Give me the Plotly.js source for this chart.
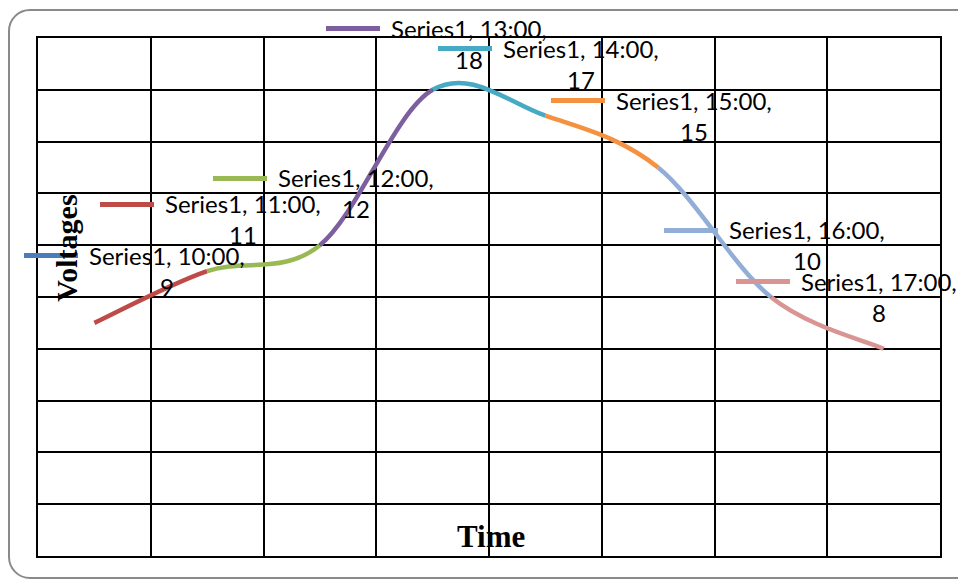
<!DOCTYPE html>
<html>
<head>
<meta charset="utf-8">
<script src="https://cdn.plot.ly/plotly-3.0.1.min.js"></script>
<style>
  html, body { margin: 0; padding: 0; background: #ffffff; overflow: hidden; }
  #wrap { position: relative; width: 958px; height: 580px; overflow: hidden; background: #ffffff; }
  #frame { position: absolute; left: 8px; top: 9px; width: 980px; height: 570px;
           border: 2px solid #8a8a8a; border-radius: 22px; box-sizing: border-box; }
  #chart { position: absolute; left: 0; top: 0; width: 958px; height: 580px; }
</style>
</head>
<body>
<div id="wrap">
  <div id="frame"></div>
  <div id="chart"></div>
</div>
<script>
// ---- data ----
const seriesName = "Series1";
const categories = ["10:00", "11:00", "12:00", "13:00", "14:00", "15:00", "16:00", "17:00"];
const voltages = [9, 11, 12, 18, 17, 15, 10, 8];
const pointColors = ["#4A7EBB", "#BE4B48", "#98B954", "#7D5FA0", "#46AAC5", "#F59241", "#93AED6", "#D99593"];
const xTitle = "Time";
const yTitle = "Voltages";

// ---- layout helpers (styling only) ----
const idx = categories.map((c, i) => i);
const n = voltages.length;

// smooth (Excel-like) curve: cubic Bezier per segment, in data coordinates
function pt(i) { return { x: idx[i], y: voltages[i] }; }
const shapes = [];
for (let i = 0; i < n - 1; i++) {
  const p0 = pt(Math.max(i - 1, 0));
  const p1 = pt(i);
  const p2 = pt(i + 1);
  const p3 = pt(Math.min(i + 2, n - 1));
  const c1x = p1.x + (p2.x - p0.x) / 6, c1y = p1.y + (p2.y - p0.y) / 6;
  const c2x = p2.x - (p3.x - p1.x) / 6, c2y = p2.y - (p3.y - p1.y) / 6;
  shapes.push({
    type: "path", xref: "x", yref: "y", layer: "above",
    path: `M ${p1.x},${p1.y} C ${c1x},${c1y} ${c2x},${c2y} ${p2.x},${p2.y}`,
    line: { color: pointColors[i + 1], width: 4.5 }
  });
}

// label placement offsets (pixels)
const keyOffsets = idx.map(i => i === 0 ? -70 : (i === n - 1 ? -148 : -107));
const labelYOff = voltages.map(v => v === Math.max(...voltages) ? 61 : 67);

const annotations = [];
idx.forEach(i => {
  const k = keyOffsets[i];
  const ly = labelYOff[i];
  // legend key (drawn as a small filled annotation box so it is not clipped)
  annotations.push({
    x: idx[i], y: voltages[i], xref: "x", yref: "y",
    text: " ", showarrow: false,
    xanchor: "center", yanchor: "middle",
    width: 54, height: 5, borderpad: 0, borderwidth: 0,
    bgcolor: pointColors[i],
    font: { size: 2, color: pointColors[i] },
    xshift: k + 27, yshift: ly
  });
  annotations.push({
    x: idx[i], y: voltages[i], xref: "x", yref: "y",
    text: `${seriesName}, ${categories[i]},<br>${voltages[i]}`,
    showarrow: false, align: "center",
    xanchor: "center", yanchor: "middle",
    xshift: k + 54 + 10 + 79, yshift: ly - 15,
    font: { family: "Lato, 'Open Sans', sans-serif", size: 24, color: "#000000" }
  });
});

// axis titles drawn inside the plot area
annotations.push({
  xref: "paper", yref: "paper", x: 0.502, y: 0.037, xanchor: "center", yanchor: "middle",
  text: `<b>${xTitle}</b>`, showarrow: false,
  font: { family: "'Liberation Serif', 'DejaVu Serif', serif", size: 31, color: "#000000" }
});
annotations.push({
  xref: "paper", yref: "paper", x: 0.032, y: 0.595, xanchor: "center", yanchor: "middle",
  text: `<b>${yTitle}</b>`, showarrow: false, textangle: -90,
  font: { family: "'Liberation Serif', 'DejaVu Serif', serif", size: 30, color: "#000000" }
});

const trace = {
  x: idx, y: voltages, type: "scatter", mode: "markers",
  marker: { size: 1, color: "rgba(0,0,0,0)" },
  hoverinfo: "skip", showlegend: false,
  customdata: categories
};

const layout = {
  width: 958, height: 580,
  margin: { l: 38, r: 18, t: 38, b: 24 },
  paper_bgcolor: "rgba(0,0,0,0)",
  plot_bgcolor: "#ffffff",
  showlegend: false,
  xaxis: {
    type: "linear", range: [-0.5, n - 0.5], tick0: -0.5, dtick: 1,
    showgrid: true, gridcolor: "#000000", gridwidth: 2,
    showline: true, linecolor: "#000000", linewidth: 2, mirror: true,
    zeroline: false, showticklabels: false, ticks: "", fixedrange: true
  },
  yaxis: {
    range: [0, 20], dtick: 2, tick0: 0,
    showgrid: true, gridcolor: "#000000", gridwidth: 2,
    showline: true, linecolor: "#000000", linewidth: 2, mirror: true,
    zeroline: false, showticklabels: false, ticks: "", fixedrange: true
  },
  shapes: shapes,
  annotations: annotations
};

Plotly.newPlot("chart", [trace], layout, { displayModeBar: false, staticPlot: true });
</script>
</body>
</html>
